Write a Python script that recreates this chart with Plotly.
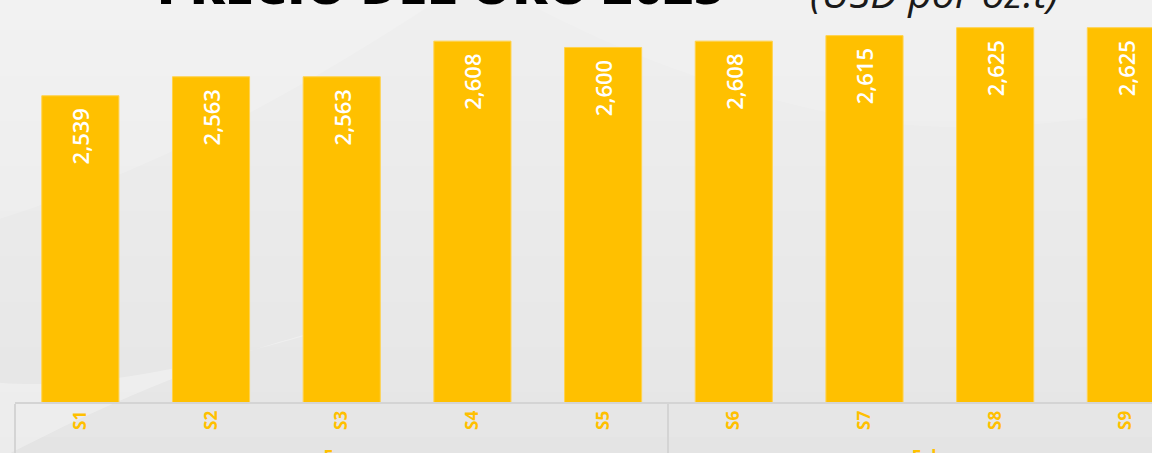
import plotly.graph_objects as go

months = ["Ene", "Ene", "Ene", "Ene", "Ene", "Feb", "Feb", "Feb", "Feb"]
weeks = ["S1", "S2", "S3", "S4", "S5", "S6", "S7", "S8", "S9"]
prices = [2539, 2563, 2563, 2608, 2600, 2608, 2615, 2625, 2625]

title_text = "PRECIO DEL ORO 2025"
subtitle_text = "(USD por oz.t)"

GOLD = "#FFC000"

fig = go.Figure()
fig.add_trace(go.Bar(
    x=[months, weeks],
    y=prices,
    marker=dict(color=GOLD, line=dict(color="#FFD24D", width=1)),
    texttemplate="%{y:,.0f}\u00a0\u2009",
    textposition="inside",
    insidetextanchor="end",
    textangle=-90,
    textfont=dict(family="Open Sans", size=22, color="white", weight=600),
    cliponaxis=False,
))

# soft vertical gradient (lighter at top) + subtle white swooshes
shapes = []
n = 12
for i in range(n):
    y0 = 1.15 - (i + 1) * 1.35 / n
    shapes.append(dict(type="rect", xref="paper", yref="paper", x0=-0.02, x1=1.02,
                       y0=y0, y1=1.15, fillcolor="rgba(255,255,255,0.075)",
                       line_width=0, layer="below"))
shapes += [
    dict(type="path", xref="paper", yref="paper",
         path="M -0.02 0.45 C 0.15 0.6, 0.3 0.85, 0.45 1.15 L -0.02 1.15 Z",
         fillcolor="rgba(255,255,255,0.18)", line_width=0, layer="below"),
    dict(type="path", xref="paper", yref="paper",
         path="M 0.35 1.15 C 0.5 0.9, 0.6 0.78, 0.75 0.7 C 0.85 0.66, 0.95 0.7, 1.02 0.75 L 1.02 1.15 Z",
         fillcolor="rgba(255,255,255,0.15)", line_width=0, layer="below"),
    dict(type="path", xref="paper", yref="paper",
         path="M -0.02 -0.15 C 0.05 -0.05, 0.15 0.1, 0.3 0.2 C 0.2 0.12, 0.08 0.02, -0.02 0.05 Z",
         fillcolor="rgba(255,255,255,0.3)", line_width=0, layer="below"),
]

fig.update_layout(
    width=1152, height=453,
    margin=dict(l=15, r=0, t=0, b=51),
    paper_bgcolor="#E2E2E2",
    plot_bgcolor="rgba(0,0,0,0)",
    bargap=0.41,
    showlegend=False,
    shapes=shapes,
    xaxis=dict(
        type="multicategory",
        range=[-0.5, 8.2],
        automargin=False,
        showgrid=False,
        showline=True, linecolor="#D4D4D4", linewidth=2,
        tickangle=-90,
        tickfont=dict(family="Open Sans", size=17, color=GOLD, weight=700),
        showdividers=True, dividercolor="#D4D4D4", dividerwidth=2,
        ticks="",
    ),
    yaxis=dict(
        range=[2152, 2660],
        visible=False,
        showgrid=False,
        automargin=False,
    ),
    annotations=[
        dict(text=title_text, xref="paper", yref="paper", x=(440 - 15) / 1137, y=1,
             xanchor="center", yanchor="bottom", yshift=-21, showarrow=False,
             font=dict(family="Open Sans", size=52, color="#000000", weight=800)),
        dict(text=subtitle_text, xref="paper", yref="paper", x=(934 - 15) / 1137, y=1,
             xanchor="center", yanchor="bottom", yshift=-22, showarrow=False,
             font=dict(family="Open Sans", size=41, color="#1A1A1A", style="italic")),
    ],
)

fig.write_html("out.html")
